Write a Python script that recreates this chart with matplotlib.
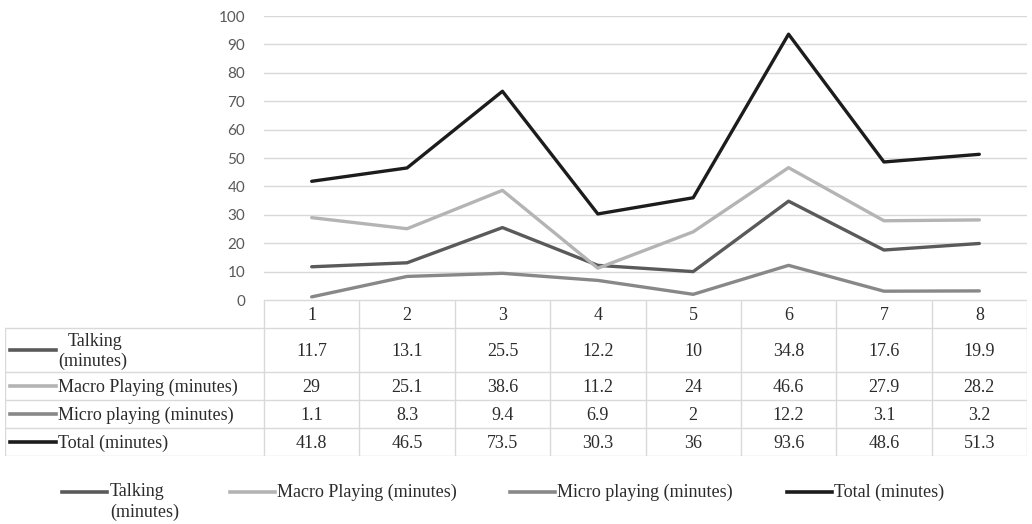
import matplotlib.pyplot as plt

# data
days = [1, 2, 3, 4, 5, 6, 7, 8]
talking = [11.7, 13.1, 25.5, 12.2, 10, 34.8, 17.6, 19.9]
macro = [29, 25.1, 38.6, 11.2, 24, 46.6, 27.9, 28.2]
micro = [1.1, 8.3, 9.4, 6.9, 2, 12.2, 3.1, 3.2]
total = [41.8, 46.5, 73.5, 30.3, 36, 93.6, 48.6, 51.3]
names = ["Talking\n(minutes)", "Macro Playing (minutes)",
         "Micro playing (minutes)", "Total (minutes)"]
series = [talking, macro, micro, total]
colors = ['#5a5a5a', '#b4b4b4', '#888888', '#1c1c1c']

W, H = 1032, 524
fig = plt.figure(figsize=(W / 100, H / 100), dpi=100)

def box(x0, y0, x1, y1):
    return [x0 / W, 1 - y1 / H, (x1 - x0) / W, (y1 - y0) / H]

serif = 'Liberation Serif'
fs = 13
tcol = '#2b2b2b'
gcol = '#d9d9d9'

# main plot
ax = fig.add_axes(box(264, 16, 1027, 300))
for vals, c in zip(series, colors):
    ax.plot(days, vals, color=c, lw=2.4, solid_capstyle='round')
ax.set_xlim(0.5, 8.5)
ax.set_ylim(0, 100)
ax.set_yticks(range(0, 101, 10))
ax.yaxis.grid(True, color=gcol, lw=1)
ax.set_axisbelow(True)
for s in ax.spines.values():
    s.set_visible(False)
ax.set_xticks([])
ax.tick_params(axis='y', length=0, pad=13.5, labelsize=11, labelcolor='#595959')
for lab in ax.get_yticklabels():
    lab.set_fontfamily('Lato')

# data table under the plot
ppu = (1027 - 264) / 8.0
def xd(p):
    return 0.5 + (p - 264) / ppu

tax = fig.add_axes(box(5, 300, 1027, 456))
tax.set_xlim(xd(5), 8.5)
tax.set_ylim(156, 0)
tax.axis('off')
rows = [0, 28, 72, 100, 128, 156]
tax.plot([0.5, 8.5], [0, 0], color=gcol, lw=1)
for r in rows[1:]:
    tax.plot([xd(5), 8.5], [r, r], color=gcol, lw=1)
tax.plot([xd(5), xd(5)], [28, 156], color=gcol, lw=1)
for k in range(9):
    tax.plot([0.5 + k, 0.5 + k], [0, 156], color=gcol, lw=1)
for d in days:
    tax.text(d, 15, str(d), ha='center', va='center', family=serif,
             fontsize=fs, color=tcol)
for i, (vals, c, nm) in enumerate(zip(series, colors, names)):
    yc = (rows[i + 1] + rows[i + 2]) / 2
    tax.plot([xd(10), xd(56)], [yc, yc], color=c, lw=2.6)
    for d, v in zip(days, vals):
        tax.text(d, yc + 1, f"{v:g}", ha='center', va='center', family=serif,
                 fontsize=fs, color=tcol)
    if i == 0:
        tax.text(xd(68), yc - 8, "Talking", ha='left', va='center',
                 family=serif, fontsize=fs, color=tcol)
        tax.text(xd(58), yc + 11, "(minutes)", ha='left', va='center',
                 family=serif, fontsize=fs, color=tcol)
    else:
        tax.text(xd(58), yc + 1, nm, ha='left', va='center', family=serif,
                 fontsize=fs, color=tcol)

# legend
lax = fig.add_axes([0, 0, 1, 1])
lax.set_xlim(0, W)
lax.set_ylim(H, 0)
lax.axis('off')
leg_x = [62, 230, 510, 787]
for x0, c, nm in zip(leg_x, colors, names):
    lax.plot([x0, x0 + 45], [492, 492], color=c, lw=2.6)
    if '\n' in nm:
        lax.text(x0 + 48, 492, "Talking", ha='left', va='center', family=serif,
                 fontsize=fs, color=tcol)
        lax.text(x0 + 48, 512, "(minutes)", ha='left', va='center', family=serif,
                 fontsize=fs, color=tcol)
    else:
        lax.text(x0 + 47, 492, nm, ha='left', va='center', family=serif,
                 fontsize=fs, color=tcol)

fig.savefig('out.png', dpi=100)
